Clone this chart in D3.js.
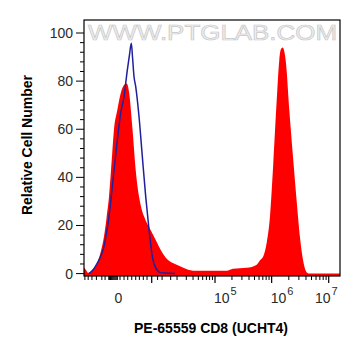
<!DOCTYPE html>
<html><head><meta charset="utf-8">
<script src="https://cdn.jsdelivr.net/npm/d3@7"></script>
<style>html,body{margin:0;padding:0;background:#fff;}svg{display:block;}</style>
</head><body>
<svg id="chart" width="361" height="356"></svg>
<script>
// ---- data (intensity, relative cell number) ----
const stainedX = [-6300,-5490,-5048,-3985,-2817,-2137,-1657,-1298,-973,-680,-415,-103,193,518,817,1099,1552,2087,2680,3186,3745,5553,7259,10110,12070,14550,19710,26350,39970,81360,161600,208900,364500,546500,624500,713700,818800,935600,1069000,1227000,1362000,1441000,1563000,1680000,1785000,2040000,2340000,2750000,3140000,3590000,4118000,4704000,15770000];
const stainedY = [2.5,1.2,0.3,1.5,4.6,9.5,15.5,23,32,46,60,68,75,78.4,79,75.6,61,43,32,27,23.8,18,14,8.7,6.5,5,3.7,2.4,1.2,1.2,1.2,2,2.4,3.7,5.5,7.2,12.8,23.8,46,72,88.8,93,94,92,87.4,68,50,30,15,5,0.5,0,0];
const controlX = [-4765,-3745,-2817,-2137,-1657,-1298,-973,-680,-415,-103,193,518,888,1164,1408,1582,1810,2087,2680,3359,4159,5047,6061,7259,9346,12070,18260];
const controlY = [0,1.5,4.4,7.5,11.3,17,23.8,33,43,55.6,66.7,73.6,84.6,91,95.7,90,81.9,77.7,65.3,48.7,32,18.3,7.2,2.4,0.4,0.2,0];

const yTicks = [0,20,40,60,80,100];
const yMinorTicks = [4,8,12,16,24,28,32,36,44,48,52,56,64,68,72,76,84,88,92,96];
const xLabelTicks = [0,1e5,1e6,1e7];
const xLabelExp = ["","5","6","7"];
const xMajorTicks = [5867,1e5,1e6,1e7];
const xMinorTicks = [-6000,-5000,-4000,-3000,-2000,-1500,-1000,-900,-800,-700,-600,-500,-400,-300,-200,-100,
  130,520,940,1470,2090,2750,3580,4500,8000,10000,15000,20000,30000,40000,50000,60000,70000,80000,90000,
  200000,300000,400000,500000,600000,700000,800000,900000,
  2000000,3000000,4000000,5000000,6000000,7000000,8000000,9000000];

const xTitle = "PE-65559 CD8 (UCHT4)";
const yTitle = "Relative Cell Number";
const watermark = "WWW.PTGLAB.COM";

// ---- layout ----
const L = 84, R = 340, T = 20, B = 276;
const svg = d3.select("#chart");
const x = d3.scaleSymlog().constant(2085).domain([-6300, 1.577e7]).range([L, R]);
const y = d3.scaleLinear().domain([-1, 100]).range([B, 33]);

// watermark
svg.append("text").attr("x", 88).attr("y", 40)
  .attr("textLength", 249).attr("lengthAdjust", "spacingAndGlyphs")
  .attr("font-family", "Liberation Sans, Arial, sans-serif").attr("font-size", 22)
  .attr("fill", "#f0f0f0").attr("stroke", "#c8c8c8").attr("stroke-width", 0.7)
  .text(watermark);

const stained = stainedX.map((v, i) => [v, stainedY[i]]);
const control = controlX.map((v, i) => [v, controlY[i]]);

svg.append("clipPath").attr("id", "clip").append("rect")
  .attr("x", L).attr("y", T).attr("width", R - L).attr("height", B - T);

const g = svg.append("g").attr("clip-path", "url(#clip)");
g.append("path").datum(stained)
  .attr("fill", "#ff0000")
  .attr("d", d3.area().x(d => x(d[0])).y0(y(-1)).y1(d => y(d[1])).curve(d3.curveMonotoneX));
g.append("path").datum(control)
  .attr("fill", "none").attr("stroke", "#20209c").attr("stroke-width", 1.5)
  .attr("d", d3.line().x(d => x(d[0])).y(d => y(d[1])).curve(d3.curveMonotoneX));

// frame
svg.append("rect").attr("x", L).attr("y", T).attr("width", R - L).attr("height", B - T)
  .attr("fill", "none").attr("stroke", "#000").attr("stroke-width", 1.2);

// y axis
const yAxis = svg.append("g");
yAxis.selectAll("line.maj").data(yTicks).join("line")
  .attr("x1", L - 8).attr("x2", L).attr("y1", d => y(d)).attr("y2", d => y(d))
  .attr("stroke", "#000").attr("stroke-width", 1);
yAxis.selectAll("line.min").data(yMinorTicks).join("line")
  .attr("x1", L - 4).attr("x2", L).attr("y1", d => y(d)).attr("y2", d => y(d))
  .attr("stroke", "#000").attr("stroke-width", 1);
yAxis.selectAll("text").data(yTicks).join("text")
  .attr("x", 73).attr("y", d => y(d) + 5).attr("text-anchor", "end")
  .attr("font-family", "Liberation Sans, Arial, sans-serif").attr("font-size", 14)
  .attr("fill", "#2a2a2a").text(d => d);

// x axis
const xAxis = svg.append("g");
xAxis.selectAll("line.maj").data(xMajorTicks).join("line")
  .attr("x1", d => x(d)).attr("x2", d => x(d)).attr("y1", B).attr("y2", B + 7)
  .attr("stroke", "#000").attr("stroke-width", 1.2);
xAxis.selectAll("line.min").data(xMinorTicks).join("line")
  .attr("x1", d => x(d)).attr("x2", d => x(d)).attr("y1", B).attr("y2", B + 4)
  .attr("stroke", "#000").attr("stroke-width", 1);

const lab = xAxis.selectAll("text").data(xLabelTicks).join("text")
  .attr("font-family", "Liberation Sans, Arial, sans-serif").attr("font-size", 14)
  .attr("fill", "#2a2a2a")
  .attr("y", 303)
  .attr("x", (d, i) => i === 0 ? x(d) : (i === 3 ? x(d) + 9 : x(d) - 1))
  .attr("text-anchor", (d, i) => i === 0 ? "middle" : (i === 3 ? "end" : "start"));
lab.each(function(d, i) {
  const t = d3.select(this);
  if (i === 0) { t.text("0"); return; }
  t.append("tspan").text("10");
  t.append("tspan").attr("dy", -8).attr("font-size", 11).attr("dx", 1).text(xLabelExp[i]);
});

// titles
svg.append("text").attr("x", 211).attr("y", 333).attr("text-anchor", "middle")
  .attr("font-family", "Liberation Sans, Arial, sans-serif").attr("font-size", 14)
  .attr("font-weight", "bold").attr("fill", "#000").text(xTitle);
svg.append("text").attr("transform", "translate(32,145) rotate(-90)").attr("text-anchor", "middle")
  .attr("font-family", "Liberation Sans, Arial, sans-serif").attr("font-size", 14)
  .attr("font-weight", "bold").attr("fill", "#000").text(yTitle);
</script>
</body></html>
